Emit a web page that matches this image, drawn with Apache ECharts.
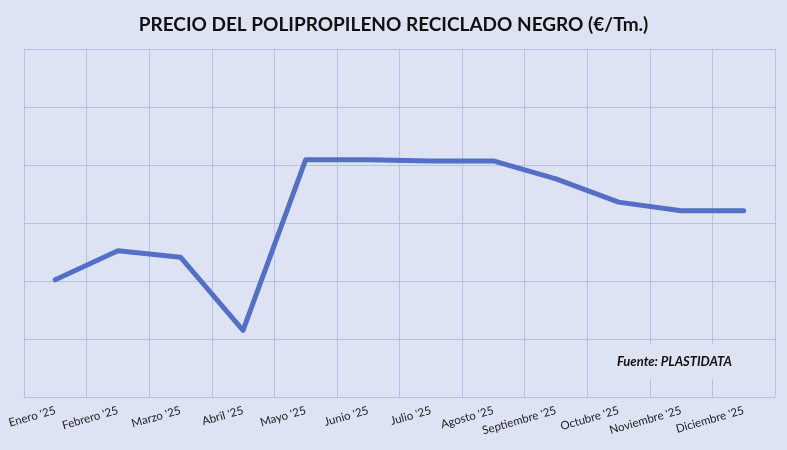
<!DOCTYPE html>
<html>
<head>
<meta charset="utf-8">
<script src="https://cdn.jsdelivr.net/npm/echarts@6/dist/echarts.min.js"></script>
<style>
  html, body { margin: 0; padding: 0; background: #dde3f3; }
  #chart { width: 787px; height: 450px; }
</style>
</head>
<body>
<div id="chart"></div>
<script>
// meses y precio (€/Tm)
var meses = ['Enero \'25', 'Febrero \'25', 'Marzo \'25', 'Abril \'25', 'Mayo \'25', 'Junio \'25',
  'Julio \'25', 'Agosto \'25', 'Septiembre \'25', 'Octubre \'25', 'Noviembre \'25', 'Diciembre \'25'];
var precio = [802, 852, 841, 715, 1009, 1009, 1007, 1007, 976, 936, 921, 921];

var chart = echarts.init(document.getElementById('chart'));
var option = {
  backgroundColor: '#dde3f3',
  animation: false,
  title: {
    text: 'PRECIO DEL POLIPROPILENO RECICLADO NEGRO (€/Tm.)',
    left: 'center',
    top: 10,
    textStyle: { fontFamily: 'Lato', fontSize: 19, fontWeight: 'bold', color: '#111' }
  },
  graphic: [{
    type: 'text',
    right: 40,
    top: 344,
    z: 100,
    style: {
      text: 'Fuente: PLASTIDATA',
      font: 'italic bold 13px Lato',
      fill: '#111',
      backgroundColor: '#dde3f3',
      padding: [11, 15]
    }
  }],
  grid: { left: 24, right: 12, top: 49, bottom: 53, containLabel: false },
  xAxis: {
    type: 'category',
    data: meses,
    boundaryGap: true,
    axisLine: { show: true, lineStyle: { color: '#b4c2e6', width: 1 } },
    axisTick: { show: false },
    splitLine: { show: true, lineStyle: { color: '#b4c2e6', width: 1 } },
    axisLabel: { rotate: 16, interval: 0, margin: 13, fontFamily: 'Lato', fontSize: 11.5, color: '#222' }
  },
  yAxis: {
    type: 'value',
    min: 600,
    max: 1200,
    interval: 100,
    axisLine: { show: false },
    axisTick: { show: false },
    axisLabel: { show: false },
    splitLine: { show: true, lineStyle: { color: '#b4c2e6', width: 1 } }
  },
  series: [{
    type: 'line',
    data: precio,
    symbol: 'none',
    lineStyle: { color: '#5470c6', width: 5, cap: 'round', join: 'round' }
  }]
};
chart.setOption(option);
</script>
</body>
</html>
